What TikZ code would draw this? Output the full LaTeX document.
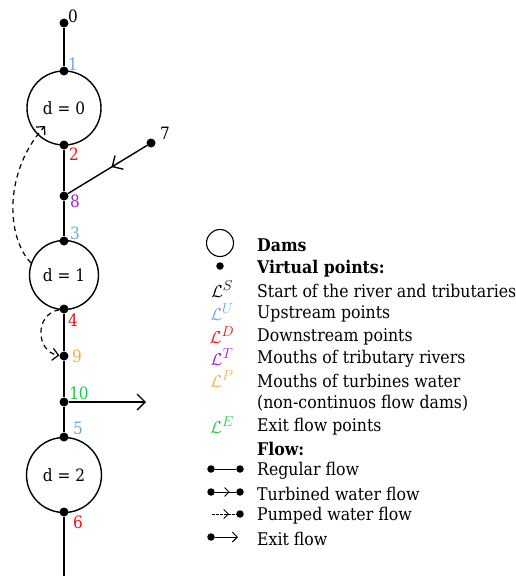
\documentclass[tikz,border=0pt]{standalone}
\usepackage{fontspec}
\setmainfont{DejaVu Serif Condensed}
\usetikzlibrary{arrows.meta,decorations.markings}

\definecolor{upblue}{HTML}{6FA8DC}
\definecolor{downred}{HTML}{F01010}
\definecolor{mouthpurple}{HTML}{9E1FC8}
\definecolor{turbyellow}{HTML}{F4B042}
\definecolor{exitgreen}{HTML}{22C84A}

\tikzset{
  vpoint/.style={circle, fill=black, inner sep=0pt, minimum size=9pt},
  smallpoint/.style={circle, fill=black, inner sep=0pt, minimum size=7.5pt},
  dam/.style={circle, draw=black, line width=1.4pt, inner sep=0pt, minimum size=#1},
  flow/.style={line width=1.4pt},
  pumped/.style={line width=1.2pt, dash pattern=on 5pt off 4pt},
  midarrow/.style={postaction=decorate, decoration={markings,
      mark=at position #1 with {\arrow{Straight Barb[length=8pt, width=16pt, line width=1.4pt]}}}},
  lbl/.style={font=\fontsize{17}{20}\selectfont, inner sep=0pt},
  legtext/.style={font=\fontsize{17.5}{21}\selectfont, anchor=west, inner sep=0pt},
  legsym/.style={font=\fontsize{19}{22}\selectfont, inner sep=0pt},
}

\begin{document}
\begin{tikzpicture}[x=1pt, y=-1pt]
\useasboundingbox (0,0) rectangle (516,576);

% dams
\node[dam=74pt, lbl] (d0) at (64,108) {d = 0};
\node[dam=69pt, lbl] (d1) at (64,275) {d = 1};
\node[dam=75pt, lbl] (d2) at (64,475) {d = 2};

% virtual points
\node[vpoint] (n0) at (64,23) {};
\node[vpoint] (n1) at (64,71) {};
\node[vpoint] (n2) at (64,145) {};
\node[vpoint] (n7) at (151,143) {};
\node[vpoint] (n8) at (64,196) {};
\node[vpoint] (n3) at (64,241) {};
\node[vpoint] (n4) at (64,309) {};
\node[vpoint] (n9) at (64,356) {};
\node[vpoint] (n10) at (64,402) {};
\node[vpoint] (n5) at (64,437) {};
\node[vpoint] (n6) at (64,512) {};
\coordinate (riverend) at (64,576);
\coordinate (exitend) at (146,402);
\coordinate (pumpin) at (45,126);

% point labels
\node[lbl] (t0) at (73,16) {0};
\node[lbl, text=upblue] (t1) at (73,64) {1};
\node[lbl, text=downred] (t2) at (74,154) {2};
\node[lbl] (t7) at (165,133) {7};
\node[lbl, text=mouthpurple] (t8) at (75,201) {8};
\node[lbl, text=upblue] (t3) at (75,233) {3};
\node[lbl, text=downred] (t4) at (73,320) {4};
\node[lbl, text=turbyellow] (t9) at (77,356) {9};
\node[lbl, text=exitgreen] (t10) at (79,393) {10};
\node[lbl, text=upblue] (t5) at (78,428) {5};
\node[lbl, text=downred] (t6) at (78,522) {6};

% regular flow along the river
\draw[flow] (n0) -- (n1);
\draw[flow] (n2) -- (n8) -- (n3);
\draw[flow] (n4) -- (n9) -- (n10) -- (n5);
\draw[flow] (n6) -- (riverend);

% tributary joining at point 8
\draw[flow, midarrow=0.45] (n7) -- (n8);

% exit flow
\draw[flow, -{Straight Barb[length=8pt, width=16pt, line width=1.4pt]}] (n10) -- (exitend);

% pumped water from dam 1 back to dam 0
\draw[pumped, -{Straight Barb[length=6pt, width=12pt, line width=1.2pt]}]
  (d1.160) .. controls (5,235) and (5,170) .. (pumpin);

% turbined water from point 4 to point 9
\draw[pumped, -{Straight Barb[length=6pt, width=12pt, line width=1.2pt]}]
  (n4) .. controls (34,314) and (36,352) .. (n9);

% legend
\node[circle, draw=black, line width=1.1pt, inner sep=0pt, minimum size=27pt] (legdam) at (220,243) {};
\node[smallpoint] (legpoint) at (220,266) {};
\node[legsym] (lS) at (222,289) {$\mathcal{L}^S$};
\node[legsym, text=upblue] (lU) at (222,312) {$\mathcal{L}^U$};
\node[legsym, text=downred] (lD) at (222,335) {$\mathcal{L}^D$};
\node[legsym, text=mouthpurple] (lT) at (222,357) {$\mathcal{L}^T$};
\node[legsym, text=turbyellow] (lP) at (222,379) {$\mathcal{L}^P$};
\node[legsym, text=exitgreen] (lE) at (222,425) {$\mathcal{L}^E$};

\node[legtext] (x1) at (257,245.5) {\textbf{Dams}};
\node[legtext] (x2) at (257,268.5) {\textbf{Virtual points:}};
\node[legtext] (x3) at (257,290.5) {Start of the river and tributaries};
\node[legtext] (x4) at (257,313.5) {Upstream points};
\node[legtext] (x5) at (257,336.5) {Downstream points};
\node[legtext] (x6) at (257,358.5) {Mouths of tributary rivers};
\node[legtext] (x7) at (257,380.5) {Mouths of turbines water};
\node[legtext] (x8) at (257,403.5) {(non-continuos flow dams)};
\node[legtext] (x9) at (257,426.5) {Exit flow points};
\node[legtext] (x10) at (257,448.5) {\textbf{Flow:}};
\node[legtext] (x11) at (257,470.5) {Regular flow};
\node[legtext] (x12) at (257,493.5) {Turbined water flow};
\node[legtext] (x13) at (257,515.5) {Pumped water flow};
\node[legtext] (x14) at (257,538.5) {Exit flow};

% flow legend icons
\node[smallpoint] (ra) at (211,469) {};
\node[smallpoint] (rb) at (240,469) {};
\draw[line width=0.9pt] (ra) -- (rb);

\node[smallpoint] (ta) at (211,492) {};
\node[smallpoint] (tb) at (240,492) {};
\draw[line width=0.9pt, postaction=decorate, decoration={markings,
  mark=at position 0.7 with {\arrow{Straight Barb[length=4.5pt, width=9pt, line width=0.9pt]}}}] (ta) -- (tb);

\coordinate (pa) at (212,514);
\node[smallpoint] (pb) at (240,514) {};
\draw[line width=0.7pt, dash pattern=on 2.5pt off 1.5pt, postaction=decorate, decoration={markings,
  mark=at position 0.7 with {\arrow{Straight Barb[length=4.5pt, width=9pt, line width=0.9pt]}}}] (pa) -- (pb);

\node[smallpoint] (ea) at (211,537) {};
\coordinate (eb) at (238,537);
\draw[line width=0.9pt, -{Straight Barb[length=5pt, width=10pt, line width=0.9pt]}] (ea) -- (eb);

\end{tikzpicture}
\end{document}
